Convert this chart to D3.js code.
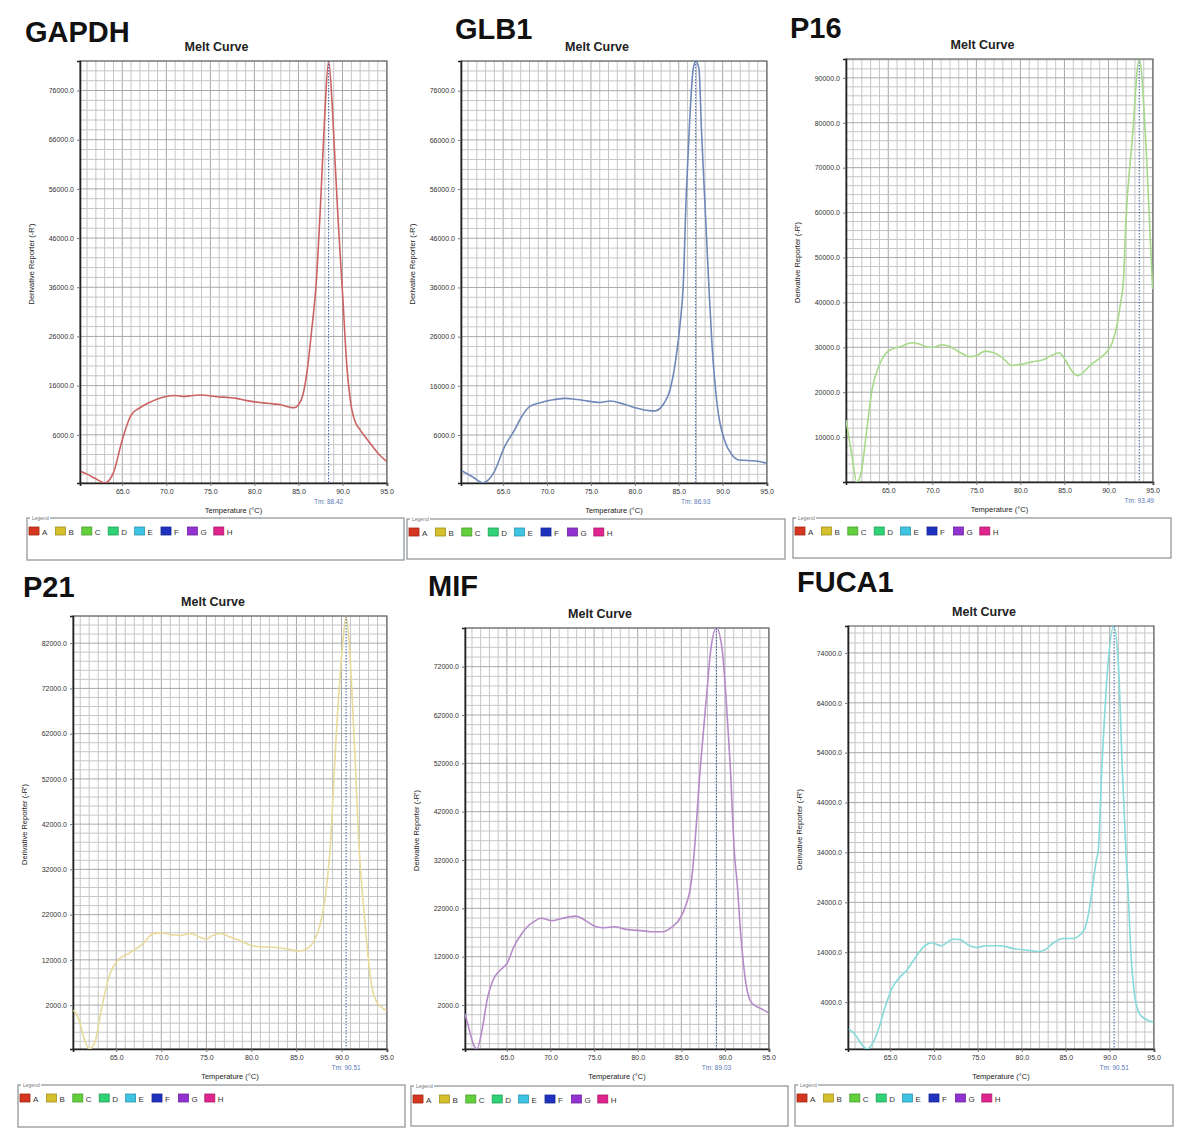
<!DOCTYPE html>
<html>
<head>
    <title>Melt Curves</title>
    <script src="https://cdnjs.cloudflare.com/ajax/libs/d3/7.8.5/d3.min.js"></script>
    <style>
        body {
            margin: 0;
            background: white;
            font-family: "Liberation Sans", Arial, sans-serif;
        }
        svg { display: block; }
    </style>
</head>
<body>
    <svg id="chart" width="1190" height="1146"></svg>

    <script>
        // Datos (temperatura °C, derivada -R')
        const genes = ["GAPDH", "GLB1", "P16", "P21", "MIF", "FUCA1"];

        const gapdhCurve = [[60.3,-1450],[61,-2000],[62,-2950],[63,-3800],[64,-1700],[65,5000],[66,10000],[67,11500],[68,12500],[69,13300],[70,13800],[71,14000],[72,13800],[73,14000],[74,14100],[75,13900],[76,13700],[77,13600],[78,13400],[79,13000],[80,12700],[81,12500],[82,12300],[83,12100],[84,11600],[84.5,11500],[85,12100],[85.5,14100],[86,19200],[86.5,27300],[87,36500],[87.5,52700],[88,71600],[88.42,82000],[88.8,74000],[89,67000],[89.5,49700],[90,34900],[90.5,19800],[91,11700],[91.5,8400],[92,7000],[93,4600],[94,2300],[95,600]];

        const glb1Curve = [[60.3,-1300],[61.5,-2500],[62.7,-3700],[64,-1450],[65.15,3600],[66.3,7000],[67.1,9700],[68,11750],[69.35,12600],[70.5,13100],[72,13450],[73.9,13100],[76,12600],[77.2,12900],[78.7,12300],[80,11550],[81.6,10950],[82.3,10900],[83.3,12400],[84,15150],[84.6,20600],[85.2,29400],[85.5,36000],[85.85,54700],[86.2,68400],[86.65,80500],[86.95,82000],[87.3,80500],[87.6,67400],[88.05,50500],[88.45,35500],[88.8,24000],[89.4,11750],[90.2,5000],[91.1,1900],[91.9,900],[93.8,700],[95,250]];

        const p16Curve = [[60.2,13800],[60.9,5600],[61.4,0],[61.9,1900],[62.6,12300],[63.15,20500],[63.9,25650],[64.66,28500],[65.4,29600],[66.36,30100],[67.7,31000],[68.4,30800],[69.6,30000],[70.15,30000],[71.1,30550],[72.05,30100],[73.2,28800],[74.3,27900],[75.1,28250],[76,29150],[77,28800],[77.9,27750],[79.05,25950],[80,26200],[81.3,26750],[82.65,27300],[83.6,28250],[84.4,28800],[85.1,27150],[85.9,24550],[86.5,23650],[87.2,24550],[87.75,25650],[88.7,27150],[89.66,28650],[90.4,30900],[91,35300],[91.36,39800],[91.7,45000],[91.95,57200],[92.7,76350],[93.49,94200],[94.3,73200],[95,43000]];

        const p21Curve = [[60.25,900],[60.8,-900],[61.55,-6100],[62,-7700],[62.7,-5750],[63.4,1600],[64.33,9000],[65.26,12100],[66.2,13200],[67.3,14550],[68,15650],[69.15,17850],[70.07,17950],[71.37,17500],[72.1,17400],[73.2,17850],[74.3,17000],[74.96,16550],[75.6,17300],[76.56,17850],[77.7,17000],[78.8,16200],[79.9,15250],[81,14900],[82.5,14800],[83.96,14400],[85.26,13950],[86.2,14550],[86.9,16000],[87.67,20050],[88.2,25950],[88.7,35500],[89.44,62450],[90.19,83100],[90.51,88000],[90.81,83100],[91.37,62450],[92,35200],[92.55,21500],[93.2,8250],[93.8,3100],[94.9,900],[95,800]];

        const mifCurve = [[60.2,200],[60.6,-2500],[61.2,-6300],[61.57,-7100],[62.15,-3200],[62.73,3000],[63.5,7500],[64.27,9250],[65.04,10650],[65.8,14050],[66.6,16500],[67.35,18200],[68.1,19250],[68.9,19950],[70.23,19450],[71.4,19950],[72.9,20400],[73.9,19600],[75.24,18200],[76.2,18000],[77.36,18200],[78.5,17700],[79.5,17500],[80.44,17400],[81.6,17150],[82.9,17150],[83.9,18100],[84.86,19950],[85.6,23050],[86,25800],[86.3,30000],[86.5,34100],[87.2,51700],[87.87,65500],[88.4,75850],[89.03,80000],[89.66,75850],[90.13,65500],[90.6,51700],[91.1,33050],[91.4,27200],[91.8,16850],[92.4,6500],[93.1,2350],[94.1,1300],[95,400]];

        const fuca1Curve = [[60.3,-1300],[61.05,-2600],[61.8,-4600],[62.37,-5400],[62.9,-4600],[63.7,-1300],[64.44,3050],[65.2,6750],[66.13,9050],[66.9,10400],[67.8,12750],[68.95,15300],[69.7,15900],[70.83,15300],[72.14,16600],[72.9,16550],[73.8,15550],[74.8,14950],[75.9,15300],[77.6,15300],[79.1,14700],[80.6,14400],[81.9,14150],[82.67,14500],[83.6,15900],[84.73,16750],[85.86,16750],[86.6,17450],[87.17,18750],[87.66,22400],[88.1,27800],[88.48,32450],[88.7,34450],[89.13,51500],[89.8,71550],[90.45,79400],[91,71550],[91.42,51500],[91.87,33450],[92.06,27800],[92.4,14400],[92.82,5750],[93.37,1750],[93.94,750],[95,0]];

        const curves = [gapdhCurve, glb1Curve, p16Curve, p21Curve, mifCurve, fuca1Curve];

        const tmValues = [88.42, 86.93, 93.49, 90.51, 89.03, 90.51];

        const xDomain = [60.2, 95.05];
        const xTicks = [65, 70, 75, 80, 85, 90, 95];

        const yDomains = [[-3800, 82000], [-3760, 82040], [0, 94200], [-7700, 88000], [-7100, 80000], [-5400, 79400]];
        const yTicks = [
            [6000, 16000, 26000, 36000, 46000, 56000, 66000, 76000],
            [6000, 16000, 26000, 36000, 46000, 56000, 66000, 76000],
            [10000, 20000, 30000, 40000, 50000, 60000, 70000, 80000, 90000],
            [2000, 12000, 22000, 32000, 42000, 52000, 62000, 72000, 82000],
            [2000, 12000, 22000, 32000, 42000, 52000, 62000, 72000],
            [4000, 14000, 24000, 34000, 44000, 54000, 64000, 74000]
        ];

        const legendKeys = ["A", "B", "C", "D", "E", "F", "G", "H"];
        const legendColors = ["#d4361f", "#d6bf2c", "#62d03c", "#2fd276", "#3fc3e3", "#1f32bf", "#9232d0", "#e0248e"];

        const curveColors = ["#cc6262", "#6f88ba", "#a6da8a", "#e8da9a", "#b68ac8", "#86dada"];

        // Posiciones de cada panel (px)
        const frames = [
            {x0: 80,  x1: 387,  y0: 61,  y1: 483},
            {x0: 461, x1: 767,  y0: 61,  y1: 483},
            {x0: 846, x1: 1153, y0: 59,  y1: 482},
            {x0: 73,  x1: 387,  y0: 616, y1: 1049},
            {x0: 465, x1: 769,  y0: 628, y1: 1049},
            {x0: 848, x1: 1154, y0: 626, y1: 1049}
        ];
        const legendBoxes = [[27,518,404,560],[407,519,785,559],[793,518,1171,558],[18,1085,405,1127],[411,1086,788,1126],[795,1085,1173,1126]];
        const genePos = [[25,42],[455,39],[790,38],[23,597],[428,596],[797,592]];

        const svg = d3.select("#chart");
        const defs = svg.append("defs");

        function drawPanel(i) {
            const f = frames[i];
            const g = svg.append("g");

            const x = d3.scaleLinear().domain(xDomain).range([f.x0, f.x1]);
            const y = d3.scaleLinear().domain(yDomains[i]).range([f.y1, f.y0]);

            // Nombre del gen
            g.append("text")
                .attr("x", genePos[i][0])
                .attr("y", genePos[i][1])
                .attr("font-size", 29)
                .attr("font-weight", "bold")
                .attr("fill", "#111")
                .text(genes[i]);

            // Título
            g.append("text")
                .attr("x", (f.x0 + f.x1) / 2 - 17)
                .attr("y", f.y0 - 10.5)
                .attr("text-anchor", "middle")
                .attr("font-size", 12.5)
                .attr("font-weight", "bold")
                .attr("fill", "#222")
                .text("Melt Curve");

            // Cuadrícula
            const grid = g.append("g");
            const minorX = d3.range(61, 96, 1);
            grid.selectAll(".vx").data(minorX).join("line")
                .attr("x1", d => x(d)).attr("x2", d => x(d))
                .attr("y1", f.y0).attr("y2", f.y1)
                .attr("stroke", d => d % 5 === 0 ? "#a8a8a8" : "#c6c6c6")
                .attr("stroke-width", 1);

            const yt = yTicks[i];
            const [ymin, ymax] = yDomains[i];
            const minorY = [];
            for (let v = yt[0] - Math.floor((yt[0] - ymin) / 2000) * 2000; v <= ymax; v += 2000) {
                if (v > ymin) minorY.push(v);
            }
            grid.selectAll(".hy").data(minorY).join("line")
                .attr("x1", f.x0).attr("x2", f.x1)
                .attr("y1", d => y(d)).attr("y2", d => y(d))
                .attr("stroke", d => yt.includes(d) ? "#a8a8a8" : "#c6c6c6")
                .attr("stroke-width", 1);

            // Marco
            g.append("rect")
                .attr("x", f.x0).attr("y", f.y0)
                .attr("width", f.x1 - f.x0).attr("height", f.y1 - f.y0)
                .attr("fill", "none")
                .attr("stroke", "#666")
                .attr("stroke-width", 1.2);

            // Ejes
            const xAxis = g.append("g")
                .attr("transform", `translate(0,${f.y1})`)
                .call(d3.axisBottom(x).tickValues(xTicks).tickSize(3).tickFormat(d3.format(".1f")));
            const yAxis = g.append("g")
                .attr("transform", `translate(${f.x0},0)`)
                .call(d3.axisLeft(y).tickValues(yt).tickSize(3).tickFormat(d3.format(".1f")));
            [xAxis, yAxis].forEach(a => {
                a.select(".domain").attr("stroke", "#222").attr("stroke-width", 1.6);
                a.selectAll(".tick line").attr("stroke", "#777");
                a.selectAll(".tick text")
                    .attr("font-size", 7)
                    .attr("font-family", "'Liberation Sans', Arial, sans-serif")
                    .attr("fill", "#333");
            });

            g.append("text")
                .attr("x", (f.x0 + f.x1) / 2)
                .attr("y", f.y1 + 30)
                .attr("text-anchor", "middle")
                .attr("font-size", 7.5)
                .attr("fill", "#222")
                .text("Temperature (°C)");

            g.append("text")
                .attr("transform", `translate(${f.x0 - 46},${(f.y0 + f.y1) / 2 - 8}) rotate(-90)`)
                .attr("text-anchor", "middle")
                .attr("font-size", 7.5)
                .attr("fill", "#222")
                .text("Derivative Reporter (-R')");

            // Curva
            defs.append("clipPath").attr("id", "clip" + i)
                .append("rect")
                .attr("x", f.x0).attr("y", f.y0 - 1)
                .attr("width", f.x1 - f.x0).attr("height", f.y1 - f.y0 + 1);

            const line = d3.line()
                .x(d => x(d[0]))
                .y(d => y(d[1]))
                .curve(d3.curveMonotoneX);

            g.append("path")
                .datum(curves[i])
                .attr("clip-path", `url(#clip${i})`)
                .attr("fill", "none")
                .attr("stroke", curveColors[i])
                .attr("stroke-width", 1.6)
                .attr("d", line);

            // Línea Tm
            g.append("line")
                .attr("x1", x(tmValues[i])).attr("x2", x(tmValues[i]))
                .attr("y1", f.y0).attr("y2", f.y1)
                .attr("stroke", "#3f5fa3")
                .attr("stroke-width", 1)
                .attr("stroke-dasharray", "1.5,1.5");

            g.append("text")
                .attr("x", x(tmValues[i]))
                .attr("y", f.y1 + 21)
                .attr("text-anchor", "middle")
                .attr("font-size", 6.5)
                .attr("fill", "#5a7ab5")
                .text("Tm: " + tmValues[i].toFixed(2));

            // Leyenda
            const [lx0, ly0, lx1, ly1] = legendBoxes[i];
            g.append("rect")
                .attr("x", lx0).attr("y", ly0)
                .attr("width", lx1 - lx0).attr("height", ly1 - ly0)
                .attr("fill", "none")
                .attr("stroke", "#8a9094")
                .attr("stroke-width", 1.2);
            g.append("rect")
                .attr("x", lx0 + 3).attr("y", ly0 - 3)
                .attr("width", 20).attr("height", 6)
                .attr("fill", "white");
            g.append("text")
                .attr("x", lx0 + 5).attr("y", ly0 + 2)
                .attr("font-size", 5)
                .attr("fill", "#777")
                .text("Legend");

            const items = g.selectAll(".leg").data(legendKeys).join("g")
                .attr("transform", (d, k) => `translate(${lx0 + 2 + k * 26.4},${ly0 + 9})`);
            items.append("rect")
                .attr("width", 10).attr("height", 8)
                .attr("fill", (d, k) => legendColors[k])
                .attr("stroke", (d, k) => d3.color(legendColors[k]).darker(0.8))
                .attr("stroke-width", 0.8);
            items.append("text")
                .attr("x", 13).attr("y", 7.5)
                .attr("font-size", 8)
                .attr("fill", "#333")
                .text(d => d);
        }

        genes.forEach((_, i) => drawPanel(i));
    </script>
</body>
</html>
